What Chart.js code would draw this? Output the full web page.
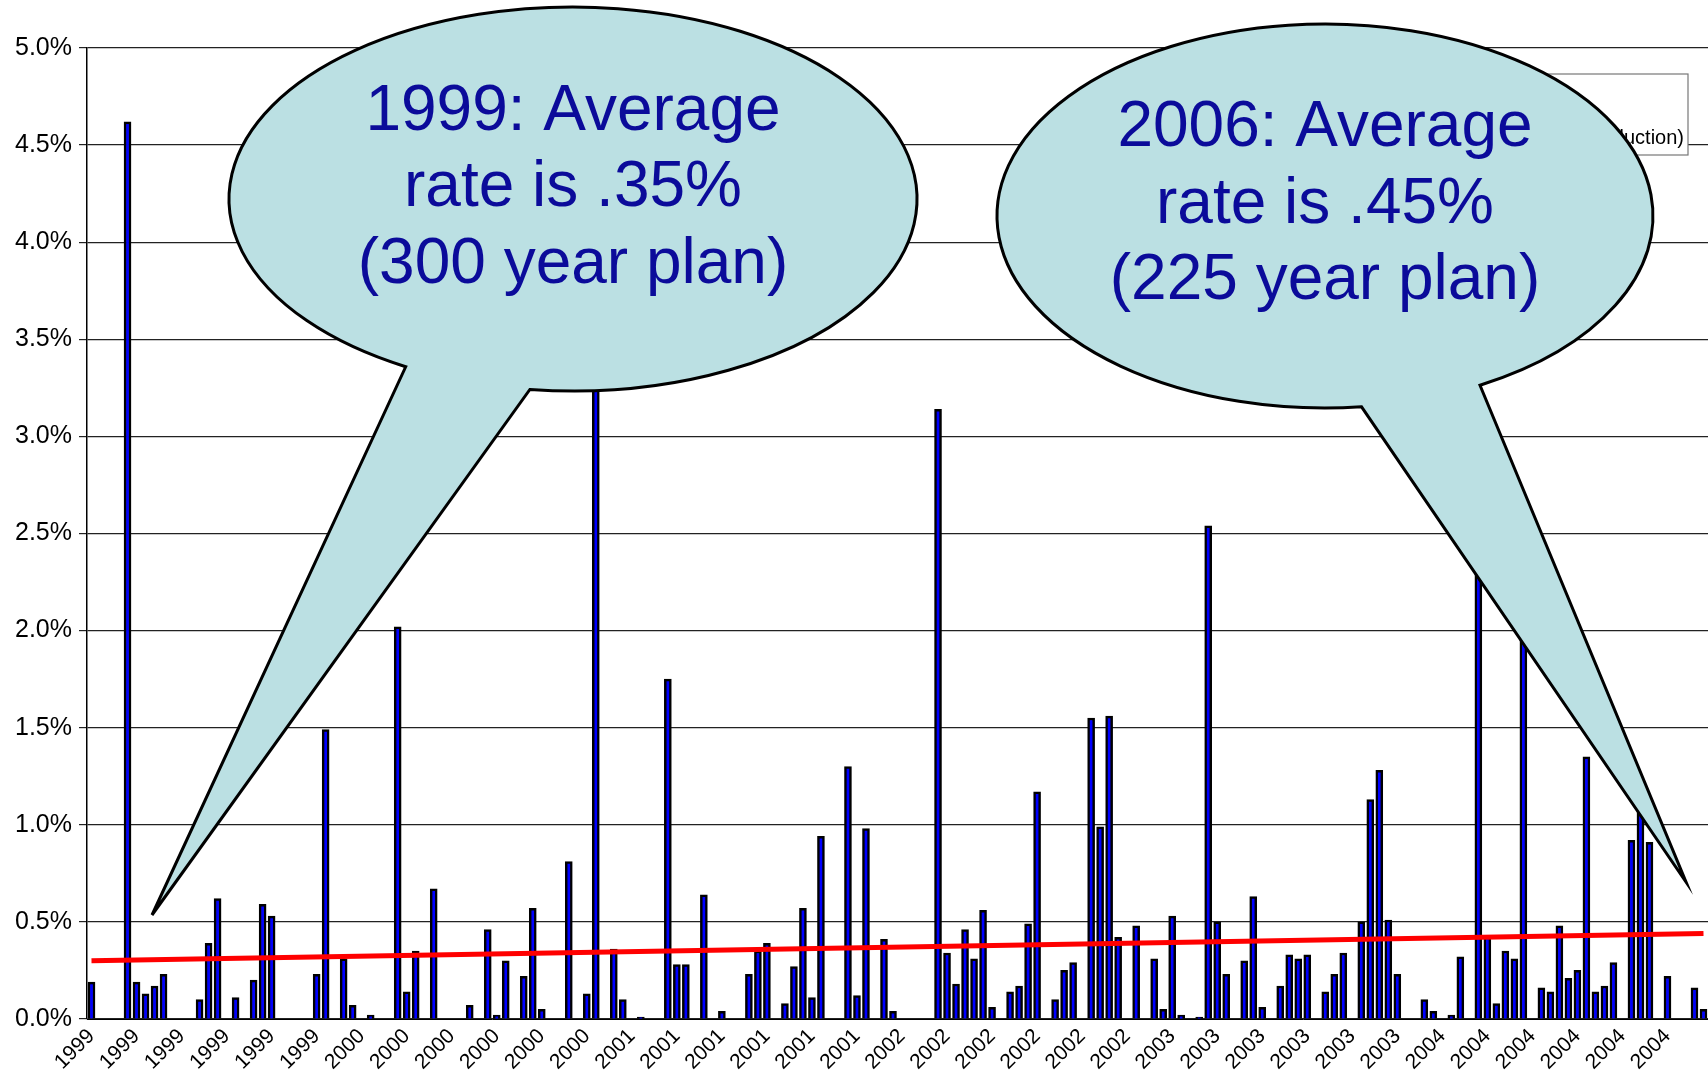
<!DOCTYPE html>
<html>
<head>
<meta charset="utf-8">
<script src="https://cdn.jsdelivr.net/npm/chart.js@4"></script>
<style>
  html, body { margin: 0; padding: 0; background: #fff; }
  #wrap { width: 1708px; height: 1083px; position: relative; }
</style>
</head>
<body>
<div id="wrap"><canvas id="rates"></canvas></div>
<script>
// one bar per period, 30 periods per year
var years = ["1999", "2000", "2001", "2002", "2003", "2004"];
var barsPerYear = 30;

var rateValues = [
  0.19, null, null, null, 4.62, 0.19, 0.13, 0.17, 0.23, null,
  null, null, 0.10, 0.39, 0.62, null, 0.11, null, 0.20, 0.59,
  0.53, null, null, null, null, 0.23, 1.49, null, 0.31, 0.07,
  null, 0.02, null, null, 2.02, 0.14, 0.35, null, 0.67, null,
  null, null, 0.07, null, 0.46, 0.02, 0.30, null, 0.22, 0.57,
  0.05, null, null, 0.81, null, 0.13, 3.50, null, 0.36, 0.10,
  null, 0.01, null, null, 1.75, 0.28, 0.28, null, 0.64, null,
  0.04, null, null, 0.23, 0.35, 0.39, null, 0.08, 0.27, 0.57,
  0.11, 0.94, null, null, 1.30, 0.12, 0.98, null, 0.41, 0.04,
  null, null, null, null, 3.14, 0.34, 0.18, 0.46, 0.31, 0.56,
  0.06, null, 0.14, 0.17, 0.49, 1.17, null, 0.10, 0.25, 0.29,
  null, 1.55, 0.99, 1.56, 0.42, null, 0.48, null, 0.31, 0.05,
  0.53, 0.02, null, 0.01, 2.54, 0.50, 0.23, null, 0.30, 0.63,
  0.06, null, 0.17, 0.33, 0.31, 0.33, null, 0.14, 0.23, 0.34,
  null, 0.50, 1.13, 1.28, 0.51, 0.23, null, null, 0.10, 0.04,
  null, 0.02, 0.32, null, 2.80, 0.43, 0.08, 0.35, 0.31, 2.20,
  null, 0.16, 0.14, 0.48, 0.21, 0.25, 1.35, 0.14, 0.17, 0.29,
  null, 0.92, 1.15, 0.91, null, 0.22, null, null, 0.16, 0.05
];

// linear trend, read at first and last bar
var trendStart = 0.30;
var trendEnd = 0.44;

var yTicks = { min: 0, max: 5, step: 0.5 };

var bubbleTexts = [
  ["1999: Average", "rate is .35%", "(300 year plan)"],
  ["2006: Average", "rate is .45%", "(225 year plan)"]
];

var labels = [];
years.forEach(function (y) {
  for (var k = 0; k < barsPerYear; k++) labels.push(y);
});

var trendValues = labels.map(function () { return null; });
trendValues[0] = trendStart;
trendValues[labels.length - 1] = trendEnd;

function drawBubble(ctx, b, lines) {
  var a1 = b.tailFrom * Math.PI / 180, a2 = b.tailTo * Math.PI / 180;
  ctx.save();
  ctx.beginPath();
  ctx.ellipse(b.cx, b.cy, b.rx, b.ry, 0, a2, a1 + Math.PI * 2);
  ctx.lineTo(b.tipX, b.tipY);
  ctx.closePath();
  ctx.fillStyle = "#bbe0e3";
  ctx.fill();
  ctx.lineWidth = 3;
  ctx.strokeStyle = "#000";
  ctx.lineJoin = "miter";
  ctx.stroke();
  ctx.fillStyle = "#0b0b9a";
  ctx.font = "64px 'Liberation Sans', Arial, sans-serif";
  ctx.textAlign = "center";
  ctx.textBaseline = "middle";
  lines.forEach(function (t, i) {
    ctx.fillText(t, b.cx, b.textY + i * 76.5);
  });
  ctx.restore();
}

var overlay = {
  id: "overlay",
  afterDatasetsDraw: function (chart) {
    var ctx = chart.ctx;
    // legend box, mostly covered by the right bubble
    ctx.save();
    ctx.fillStyle = "#fff";
    ctx.fillRect(1300, 74, 388, 81);
    ctx.strokeStyle = "#777";
    ctx.lineWidth = 1.2;
    ctx.strokeRect(1300, 74, 388, 81);
    ctx.fillStyle = "#000";
    ctx.font = "20px 'Liberation Sans', Arial, sans-serif";
    ctx.textBaseline = "middle";
    ctx.fillText("Rate", 1360, 100);
    ctx.textAlign = "right";
    ctx.fillText("Linear (Rate of Reduction)", 1684, 138);
    ctx.restore();

    drawBubble(ctx, { cx: 573, cy: 199, rx: 344, ry: 192, tailFrom: 97.2, tailTo: 119.1,
      tipX: 152, tipY: 915, textY: 112 }, bubbleTexts[0]);
    drawBubble(ctx, { cx: 1325, cy: 216, rx: 328, ry: 192, tailFrom: 61.8, tailTo: 83.6,
      tipX: 1686, tipY: 882, textY: 128.5 }, bubbleTexts[1]);
  }
};

new Chart("rates", {
  type: "bar",
  data: {
    labels: labels,
    datasets: [{
      type: "line",
      label: "Linear (Rate of Reduction)",
      data: trendValues,
      spanGaps: true,
      borderColor: "#ff0000",
      borderWidth: 5,
      pointRadius: 0,
      order: 1
    }, {
      label: "Rate",
      data: rateValues,
      backgroundColor: "#0000ff",
      borderColor: "#000",
      borderWidth: 2.5,
      barThickness: 7,
      order: 2
    }]
  },
  options: {
    responsive: true,
    maintainAspectRatio: false,
    devicePixelRatio: 1,
    animation: false,
    layout: { padding: { top: 48, right: 0, left: 0, bottom: 0 } },
    plugins: {
      legend: { display: false },
      tooltip: { enabled: false }
    },
    scales: {
      x: {
        grid: { display: false, drawTicks: false },
        border: { display: true, color: "#000", width: 1 },
        ticks: {
          autoSkip: false,
          minRotation: 45,
          maxRotation: 45,
          padding: 5,
          color: "#000",
          font: { family: "'Liberation Sans', Arial, sans-serif", size: 21 },
          callback: function (v, i) { return i % 5 === 0 ? labels[i] : ""; }
        },
        afterFit: function (s) {
          s.height = 64;
          s.paddingLeft = 0;
          s.paddingRight = 0;
        }
      },
      y: {
        min: yTicks.min,
        max: yTicks.max,
        grid: { color: "#222", lineWidth: 1.2, tickLength: 8 },
        border: { display: true, color: "#000", width: 1.5 },
        ticks: {
          stepSize: yTicks.step,
          padding: 7,
          color: "#000",
          font: { family: "'Liberation Sans', Arial, sans-serif", size: 25 },
          callback: function (v) { return v.toFixed(1) + "%"; }
        },
        afterFit: function (s) { s.width = 87; }
      }
    }
  },
  plugins: [overlay]
});
</script>
</body>
</html>
